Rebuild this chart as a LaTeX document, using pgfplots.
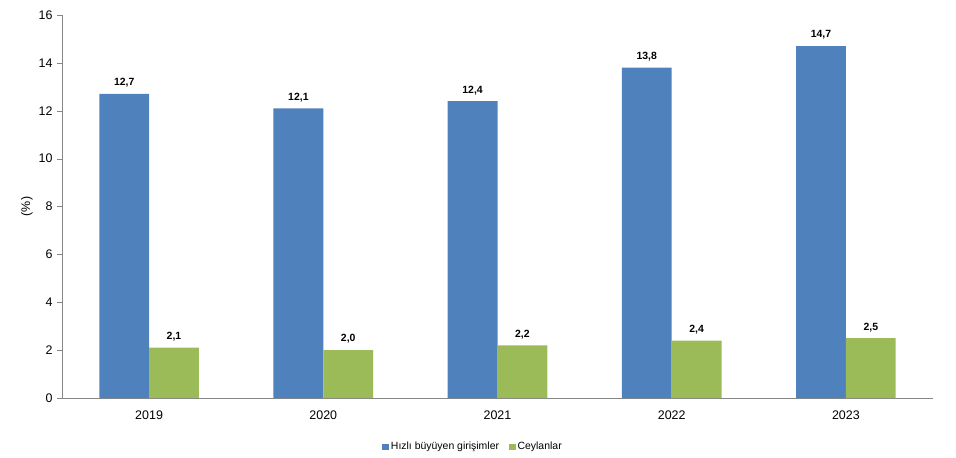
\documentclass[border=0pt]{standalone}
\usepackage{pgfplots}
\pgfplotsset{compat=1.18}
\usepackage{fontspec}
\setmainfont{Liberation Sans}
\definecolor{cblue}{HTML}{4F81BD}
\definecolor{cgreen}{HTML}{9BBB59}
\definecolor{axgray}{HTML}{868686}
\begin{document}
\begin{tikzpicture}[x=1bp,y=1bp]
\useasboundingbox (-62bp,-60bp) rectangle (894bp,398bp);
\begin{axis}[
  at={(0,0)}, anchor=south west,
  scale only axis, width=871bp, height=383bp,
  xmin=-0.5, xmax=4.5, ymin=0, ymax=16,
  ytick={0,2,...,16},
  xtick={0,1,2,3,4}, xticklabels={2019,2020,2021,2022,2023},
  extra x ticks={-0.5,0.5,1.5,2.5,3.5,4.5},
  extra x tick labels={},
  extra x tick style={major tick length=5bp, tick style={axgray}},
  x tick style={draw=none},
  y tick style={axgray},
  major tick length=5bp,
  tick align=outside,
  axis x line*=bottom, axis y line*=left,
  axis line style={axgray},
  /pgf/number format/assume math mode=true,
  ticklabel style={font=\fontsize{12.5}{14}\selectfont},
  yticklabel style={xshift=-1bp},
  xticklabel style={yshift=-4bp},
  ylabel={(\%)}, ylabel style={font=\fontsize{12.5}{14}\selectfont, yshift=-1bp},
  ybar, bar width=0.286,
  nodes near coords,
  every node near coord/.append style={font=\bfseries\fontsize{10.5}{12}\selectfont, yshift=3bp, /pgf/number format/.cd, assume math mode=true, use comma, fixed, fixed zerofill, precision=1},
  legend style={at={(0.472,-0.105)}, anchor=north, draw=none, font=\fontsize{10.5}{12}\selectfont, legend columns=2, /tikz/every even column/.append style={column sep=8bp}, /tikz/every odd column/.append style={column sep=0bp}},
  legend image code/.code={\fill[#1] (0bp,-3.2bp) rectangle (6.5bp,3.2bp);},
]
\addplot[fill=cblue, draw=none, bar shift=-0.143] coordinates {(0,12.7) (1,12.1) (2,12.4) (3,13.8) (4,14.7)};
\addplot[fill=cgreen, draw=none, bar shift=0.143] coordinates {(0,2.1) (1,2.0) (2,2.2) (3,2.4) (4,2.5)};
\legend{Hızlı büyüyen girişimler, Ceylanlar}
\end{axis}
\end{tikzpicture}
\end{document}
